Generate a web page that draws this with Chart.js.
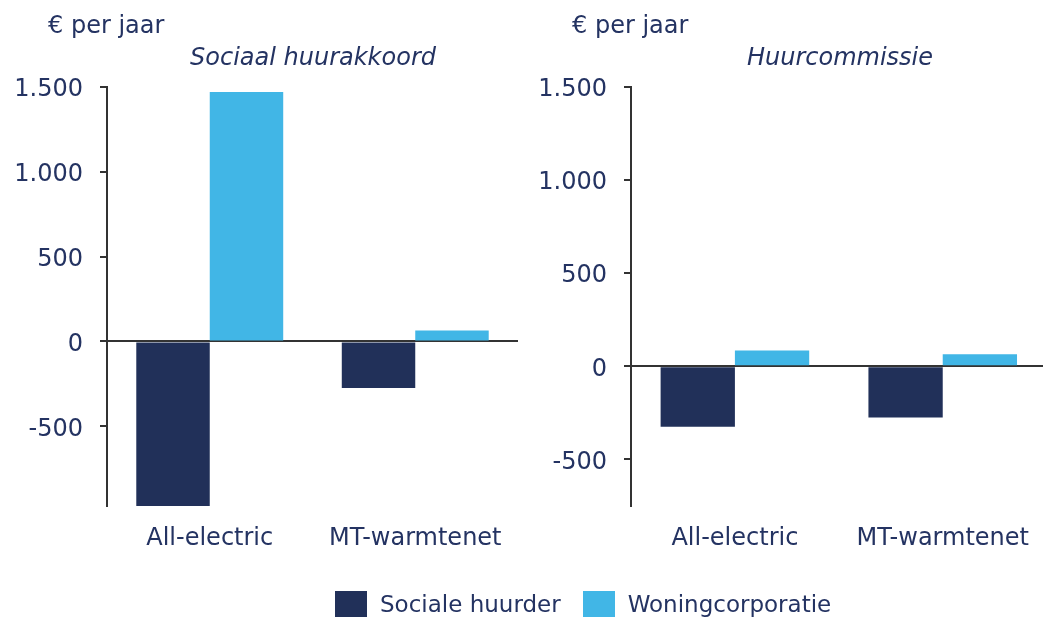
<!DOCTYPE html>
<html>
<head>
<meta charset="utf-8">
<script src="https://cdn.jsdelivr.net/npm/chart.js@4/dist/chart.umd.min.js"></script>
<style>
  body { margin: 0; background: #fff; font-family: "DejaVu Sans", Verdana, sans-serif; color: #243362; }
  #wrap { position: relative; width: 1043px; height: 618px; overflow: hidden; }
  .box { position: absolute; top: 0; height: 618px; }
  .unit { position: absolute; top: 11px; font-size: 24px; }
  .title { position: absolute; top: 43px; font-size: 24px; font-style: italic; transform: translateX(-50%); white-space: nowrap; }
  .legend { position: absolute; left: 335px; top: 591px; font-size: 23px; display: flex; align-items: center; white-space: nowrap; }
  .legend span.sw { display: inline-block; width: 32px; height: 26px; margin-right: 13px; }
  .legend span.lbl { margin-right: 22px; }
</style>
</head>
<body>
<div id="wrap">
  <div class="box" style="left:0;width:525px"><canvas id="links"></canvas></div>
  <div class="box" style="left:525px;width:522px"><canvas id="rechts"></canvas></div>
  <div class="unit" style="left:48px">€ per jaar</div>
  <div class="unit" style="left:572px">€ per jaar</div>
  <div class="title" style="left:313px">Sociaal huurakkoord</div>
  <div class="title" style="left:840px">Huurcommissie</div>
  <div class="legend" id="legenda"></div>
</div>
<script>
// varianten en reeksen
const varianten = ["All-electric", "MT-warmtenet"];
const reeksen = ["Sociale huurder", "Woningcorporatie"];
const kleuren = ["#213059", "#41b6e6"];

// Sociaal huurakkoord (€ per jaar)
const huurakkoordHuurder = [-970, -275];
const huurakkoordCorporatie = [1470, 65];

// Huurcommissie (€ per jaar)
const commissieHuurder = [-325, -275];
const commissieCorporatie = [85, 65];

// as-bereik en asverdeling
const asLinks = { min: -970, max: 1500 };
const asRechts = { min: -750, max: 1500 };
const tickWaarden = [-500, 0, 500, 1000, 1500];

const tekstKleur = "#243362";
const lijnKleur = "#333333";

function formatGetal(v) {
  const s = Math.abs(v).toString().replace(/\B(?=(\d{3})+(?!\d))/g, ".");
  return (v < 0 ? "-" : "") + s;
}

function maakGrafiek(id, huurder, corporatie, as, asBreedte, rechtsPad) {
  const ctx = document.getElementById(id).getContext("2d");
  return new Chart(ctx, {
    type: "bar",
    data: {
      labels: varianten,
      datasets: [
        { label: reeksen[0], data: huurder, backgroundColor: kleuren[0], borderWidth: 0 },
        { label: reeksen[1], data: corporatie, backgroundColor: kleuren[1], borderWidth: 0 },
      ],
    },
    options: {
      responsive: true,
      maintainAspectRatio: false,
      animation: false,
      events: [],
      layout: { padding: { top: 87, bottom: 62, left: 0, right: rechtsPad } },
      plugins: { legend: { display: false }, tooltip: { enabled: false } },
      datasets: { bar: { categoryPercentage: 0.715, barPercentage: 1 } },
      scales: {
        x: {
          grid: { display: false, drawTicks: false },
          border: { display: false },
          ticks: { color: tekstKleur, font: { family: "DejaVu Sans", size: 24 }, padding: 18, maxRotation: 0 },
          afterFit: (s) => { s.height = 50; },
        },
        y: {
          min: as.min,
          max: as.max,
          z: 1,
          border: { display: true, color: lijnKleur, width: 2 },
          grid: {
            color: (c) => (c.tick && c.tick.value === 0 ? lijnKleur : "rgba(0,0,0,0)"),
            tickColor: lijnKleur,
            lineWidth: 2,
            tickLength: 7,
          },
          ticks: {
            color: tekstKleur,
            font: { family: "DejaVu Sans", size: 24 },
            padding: 17,
            labelOffset: 3,
            callback: (v) => formatGetal(v),
          },
          afterBuildTicks: (s) => {
            s.ticks = tickWaarden.filter((v) => v >= as.min && v <= as.max).map((v) => ({ value: v }));
          },
          afterFit: (s) => { s.width = asBreedte; },
        },
      },
    },
  });
}

maakGrafiek("links", huurakkoordHuurder, huurakkoordCorporatie, asLinks, 107, 7);
maakGrafiek("rechts", commissieHuurder, commissieCorporatie, asRechts, 106, 0);

// legenda onder beide panelen
const legenda = document.getElementById("legenda");
reeksen.forEach((naam, i) => {
  const sw = document.createElement("span");
  sw.className = "sw";
  sw.style.background = kleuren[i];
  const lbl = document.createElement("span");
  lbl.className = "lbl";
  lbl.textContent = naam;
  legenda.appendChild(sw);
  legenda.appendChild(lbl);
});
</script>
</body>
</html>
